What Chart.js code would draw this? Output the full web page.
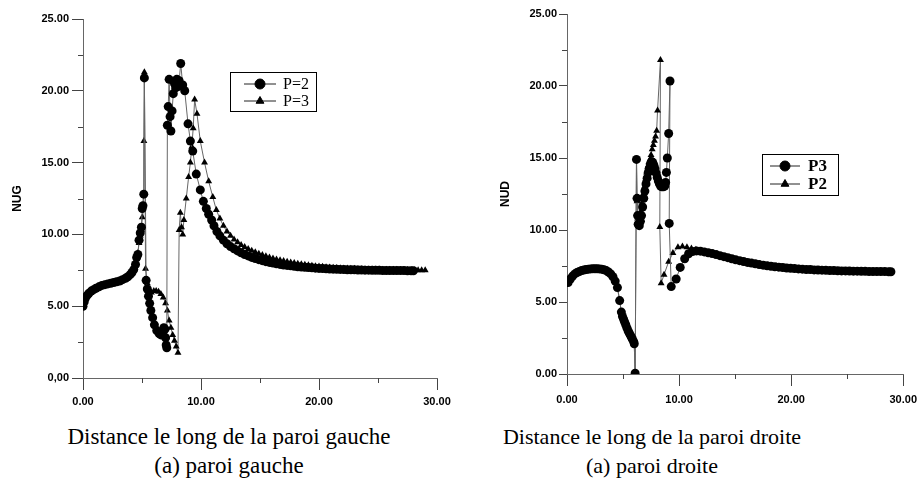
<!DOCTYPE html>
<html>
<head>
<meta charset="utf-8">
<script src="https://cdn.jsdelivr.net/npm/chart.js@4.4.1/dist/chart.umd.min.js"></script>
<style>
  body { margin: 0; background: #fff; width: 924px; height: 490px; position: relative; overflow: hidden; }
  canvas { position: absolute; top: 0; }
  #graphGauche { left: 0; }
  #graphDroite { left: 460px; }
  .legende { position: absolute; width: 420px; text-align: center; font-family: "Liberation Serif", serif;
             font-size: 23px; line-height: 29px; color: #000; white-space: nowrap; }
</style>
</head>
<body>
<canvas id="graphGauche" width="460" height="420"></canvas>
<canvas id="graphDroite" width="464" height="420"></canvas>
<div class="legende" style="left:19px; top:422px;">Distance le long de la paroi gauche<br>(a) paroi gauche</div>
<div class="legende" style="left:442px; top:422px; font-size:22px;">Distance le long de la paroi droite<br>(a) paroi droite</div>

<script>
// ---- paroi gauche, P=2 (cercles)
const gaucheX2 = [0.0,0.1,0.2,0.35,0.5,0.7,0.9,1.1,1.35,1.6,1.85,2.1,2.35,2.6,2.85,3.1,3.35,3.6,3.8,4.0,4.15,4.3,4.45,4.55,4.65,4.75,4.85,4.95,5.02,5.08,5.15,5.2,
  5.35,5.45,5.55,5.65,5.75,5.9,6.05,6.25,6.45,6.6,6.75,6.85,6.95,7.0,7.05,7.1,
  7.15,7.22,7.3,7.38,7.45,7.55,7.65,7.75,7.85,7.95,8.05,8.15,8.28,8.45,8.62,8.9,9.1,9.3,9.6,9.94,10.2,10.45,10.65,10.9,11.1,11.35,11.6,11.9,
  12.2,12.5,12.8,13.1,13.4,13.7,14.0,14.3,14.6,14.9,15.2,15.5,15.8,16.1,16.4,16.7,17.0,17.3,17.6,17.9,18.2,18.5,18.8,19.1,19.4,19.7,20.0,
  20.3,20.6,20.9,21.2,21.5,21.8,22.1,22.4,22.7,23.0,23.3,23.6,23.9,24.2,24.5,24.8,25.1,25.4,25.7,26.0,26.3,26.6,26.9,27.2,27.5,27.8,28.0];
const gaucheY2 = [5.0,5.3,5.55,5.75,5.9,6.05,6.15,6.25,6.35,6.45,6.5,6.55,6.6,6.65,6.7,6.75,6.85,6.95,7.05,7.2,7.35,7.55,7.9,8.4,8.6,9.6,10.1,10.5,11.8,12.0,12.8,20.9,
  6.8,6.2,5.7,5.2,4.7,4.2,3.7,3.3,3.1,3.0,3.2,3.5,3.4,2.8,2.3,2.1,
  17.6,18.9,20.8,18.2,17.2,18.6,19.8,20.5,20.2,20.8,20.3,20.7,21.9,20.4,20.0,17.7,16.5,15.8,14.2,13.1,12.3,11.8,11.4,11.0,10.6,10.2,9.9,9.6,
  9.35,9.15,9.0,8.85,8.72,8.6,8.5,8.4,8.32,8.24,8.17,8.1,8.05,8.0,7.95,7.91,7.87,7.84,7.81,7.78,7.75,7.73,7.71,7.69,7.67,7.65,7.63,
  7.62,7.6,7.59,7.58,7.57,7.56,7.55,7.54,7.53,7.53,7.52,7.52,7.51,7.51,7.5,7.5,7.5,7.49,7.49,7.49,7.48,7.48,7.48,7.48,7.47,7.47,7.47];

// ---- paroi gauche, P=3 (triangles)
const gaucheX3 = [0.0,0.1,0.2,0.35,0.5,0.7,0.9,1.1,1.35,1.6,1.85,2.1,2.35,2.6,2.85,3.1,3.35,3.6,3.8,4.0,4.15,4.3,4.45,4.55,4.65,4.75,4.85,4.95,5.02,5.08,5.12,5.16,5.2,
  5.3,5.45,5.6,5.8,6.0,6.2,6.4,6.6,6.8,7.0,7.15,7.3,7.45,7.6,7.75,7.9,8.05,
  8.15,8.25,8.35,8.45,8.55,8.75,8.95,9.1,9.22,9.34,9.46,9.66,9.94,10.3,10.65,11.0,11.3,11.6,11.9,12.2,12.5,12.8,13.1,13.4,13.7,14.0,
  14.3,14.6,14.9,15.2,15.5,15.8,16.1,16.4,16.7,17.0,17.3,17.6,17.9,18.2,18.5,18.8,19.1,19.4,19.7,20.0,20.3,20.6,20.9,21.2,21.5,21.8,
  22.1,22.4,22.7,23.0,23.3,23.6,23.9,24.2,24.5,24.8,25.1,25.4,25.7,26.0,26.3,26.6,26.9,27.2,27.5,27.8,28.1,28.4,28.7,29.0];
const gaucheY3 = [5.0,5.3,5.55,5.75,5.9,6.05,6.15,6.25,6.35,6.45,6.5,6.55,6.6,6.65,6.7,6.75,6.85,6.95,7.05,7.2,7.35,7.55,7.9,8.3,8.7,9.4,9.9,10.3,11.2,12.0,12.8,16.5,21.3,
  7.6,6.6,6.1,5.95,6.05,6.05,6.0,5.85,5.6,5.2,4.7,4.0,3.5,3.0,2.6,2.2,1.75,
  10.3,11.5,10.5,10.0,11.0,12.5,14.0,15.0,16.1,17.4,19.4,18.4,16.5,15.0,13.7,12.6,11.7,11.1,10.6,10.2,9.9,9.65,9.45,9.27,9.12,8.98,
  8.86,8.75,8.65,8.56,8.48,8.4,8.33,8.26,8.2,8.14,8.09,8.04,8.0,7.96,7.92,7.88,7.85,7.82,7.79,7.76,7.74,7.72,7.7,7.68,7.66,7.65,
  7.63,7.62,7.61,7.6,7.59,7.58,7.57,7.56,7.56,7.55,7.55,7.54,7.54,7.53,7.53,7.53,7.52,7.52,7.52,7.51,7.51,7.51,7.5,7.5];

// ---- paroi droite, P3 (cercles)
const droiteX3 = [0.1,0.3,0.5,0.7,0.9,1.1,1.3,1.5,1.7,1.9,2.1,2.3,2.5,2.7,2.9,3.1,3.3,3.5,3.7,3.9,4.1,4.3,4.5,4.7,4.85,4.95,5.05,5.15,5.25,5.35,5.45,5.55,5.65,5.75,5.85,5.95,6.0,6.08,
  6.2,6.25,6.3,6.35,6.45,6.55,6.65,6.75,6.85,6.95,7.05,7.15,7.25,7.35,7.45,7.55,7.65,7.75,7.85,7.95,8.05,8.15,8.25,8.35,8.45,8.6,8.72,8.8,8.87,8.95,9.07,9.19,9.12,9.3,
  9.74,10.1,10.5,10.85,11.2,11.55,11.9,12.25,12.6,12.95,13.3,13.65,14.0,14.35,14.7,15.05,15.4,15.75,16.1,16.45,16.8,17.15,17.5,17.85,18.2,18.55,18.9,
  19.25,19.6,19.95,20.3,20.65,21.0,21.35,21.7,22.05,22.4,22.75,23.1,23.45,23.8,24.15,24.5,24.85,25.2,25.55,25.9,26.25,26.6,26.95,27.3,27.65,28.0,28.35,28.7,28.9];
const droiteY3 = [6.35,6.6,6.8,6.95,7.05,7.12,7.18,7.22,7.26,7.28,7.3,7.31,7.31,7.31,7.3,7.28,7.24,7.18,7.08,6.95,6.75,6.45,6.0,5.1,4.3,4.0,3.8,3.6,3.4,3.2,3.0,2.85,2.7,2.55,2.4,2.25,2.1,0.05,
  14.9,12.2,11.0,10.4,10.3,10.6,11.0,11.6,12.2,12.7,13.2,13.6,14.0,14.3,14.55,14.75,14.7,14.5,14.25,13.95,13.65,13.4,13.2,13.05,13.0,13.0,13.05,13.3,14.0,15.0,16.7,20.35,10.46,6.07,
  6.6,7.4,8.0,8.35,8.5,8.55,8.53,8.48,8.42,8.36,8.29,8.22,8.15,8.08,8.0,7.93,7.87,7.81,7.75,7.7,7.65,7.6,7.56,7.52,7.48,7.45,7.42,
  7.39,7.36,7.34,7.32,7.3,7.28,7.26,7.25,7.23,7.22,7.21,7.2,7.19,7.18,7.17,7.16,7.16,7.15,7.14,7.14,7.13,7.13,7.12,7.12,7.12,7.11,7.11,7.1,7.1];

// ---- paroi droite, P2 (triangles)
const droiteX2 = [0.1,0.3,0.5,0.7,0.9,1.1,1.3,1.5,1.7,1.9,2.1,2.3,2.5,2.7,2.9,3.1,3.3,3.5,3.7,3.9,4.1,4.3,4.5,4.7,4.85,4.95,5.05,5.15,5.25,5.35,5.45,5.55,5.65,5.75,5.85,5.95,6.0,6.08,
  6.2,6.25,6.3,6.4,6.5,6.6,6.7,6.8,6.9,7.0,7.1,7.2,7.3,7.4,7.5,7.6,7.7,7.8,7.9,8.0,8.08,8.34,8.28,8.4,8.66,9.07,9.45,9.9,
  10.3,10.7,11.1,11.5,11.9,12.3,12.7,13.1,13.5,13.9,14.3,14.7,15.1,15.5,15.9,16.3,16.7,17.1,17.5,17.9,18.3,18.7,19.1,19.5,19.9,
  20.3,20.7,21.1,21.5,21.9,22.3,22.7,23.1,23.5,23.9,24.3,24.7,25.1,25.5,25.9,26.3,26.7,27.1,27.5,27.9,28.3,28.7];
const droiteY2 = [6.35,6.6,6.8,6.95,7.05,7.12,7.18,7.22,7.26,7.28,7.3,7.31,7.31,7.31,7.3,7.28,7.24,7.18,7.08,6.95,6.75,6.45,6.0,5.1,4.3,4.0,3.8,3.6,3.4,3.2,3.0,2.85,2.7,2.55,2.4,2.25,2.1,0.05,
  14.9,12.0,10.8,10.4,10.8,11.3,11.9,12.5,13.0,13.5,14.0,14.4,14.7,14.9,15.2,15.6,15.9,16.2,16.5,16.9,18.3,21.8,10.2,6.3,6.9,7.8,8.4,8.8,
  8.85,8.8,8.72,8.63,8.55,8.47,8.39,8.31,8.23,8.15,8.07,8.0,7.93,7.86,7.8,7.74,7.68,7.63,7.58,7.54,7.5,7.46,7.43,7.4,7.37,
  7.35,7.33,7.31,7.29,7.27,7.25,7.24,7.22,7.21,7.2,7.19,7.18,7.17,7.16,7.15,7.14,7.13,7.13,7.12,7.12,7.11,7.11];

const graduationsY = [0, 5, 10, 15, 20, 25];
const graduationsX = [0, 10, 20, 30];

function points(xs, ys) {
  return xs.map((x, i) => ({ x: x, y: ys[i] }));
}

// petites graduations + cadre de légende
const decor = {
  id: 'decor',
  afterDraw(chart, args, opts) {
    const ctx = chart.ctx;
    const sx = chart.scales.x, sy = chart.scales.y;
    ctx.save();
    ctx.strokeStyle = '#444';
    ctx.lineWidth = 1;
    ctx.beginPath();
    sx.ticks.forEach(t => {
      if (graduationsX.includes(t.value)) return;
      const px = Math.round(sx.getPixelForValue(t.value)) + 0.5;
      ctx.moveTo(px, sx.top); ctx.lineTo(px, sx.top + 5);
    });
    sy.ticks.forEach(t => {
      if (graduationsY.includes(t.value)) return;
      const py = Math.round(sy.getPixelForValue(t.value)) + 0.5;
      ctx.moveTo(sy.right, py); ctx.lineTo(sy.right - 5, py);
    });
    ctx.stroke();

    // légende
    const b = opts.boite;
    ctx.strokeStyle = '#000';
    ctx.strokeRect(b.x + 0.5, b.y + 0.5, b.w, b.h);
    ctx.font = (b.gras ? 'bold ' : '') + b.taille + 'px "Liberation Serif"';
    ctx.textBaseline = 'middle';
    ctx.fillStyle = '#000';
    chart.data.datasets.forEach((ds, i) => {
      const cy = b.y + b.premier + i * b.ecart;
      ctx.strokeStyle = '#222';
      ctx.beginPath();
      ctx.moveTo(b.x + b.l0, cy); ctx.lineTo(b.x + b.l1, cy);
      ctx.stroke();
      ctx.fillStyle = '#000';
      ctx.strokeStyle = '#000';
      Chart.helpers.drawPoint(ctx, { pointStyle: ds.pointStyle, radius: ds.pointRadius + 0.5, rotation: 0, borderWidth: 1 },
        b.x + (b.l0 + b.l1) / 2, cy);
      ctx.fillText(ds.label, b.x + b.tx, cy + 1);
    });
    ctx.restore();
  }
};

function serie(label, data, style, rayon) {
  return {
    label: label,
    data: data,
    showLine: true,
    borderColor: '#666',
    borderWidth: 1,
    pointStyle: style,
    pointRadius: rayon,
    pointBackgroundColor: '#000',
    pointBorderColor: '#000',
    pointBorderWidth: 0,
    tension: 0
  };
}

function creer(id, series, reglages) {
  const format = reglages.zeroVirgule;
  new Chart(document.getElementById(id), {
    type: 'scatter',
    data: { datasets: series },
    options: {
      responsive: false,
      animation: false,
      events: [],
      layout: { padding: reglages.padding },
      plugins: { legend: { display: false }, tooltip: { enabled: false }, decor: { boite: reglages.boite } },
      scales: {
        x: {
          type: 'linear', min: 0, max: 30,
          border: { color: '#666', width: 1 },
          grid: { drawOnChartArea: false, tickLength: 12,
                  tickColor: c => (c.tick && graduationsX.includes(c.tick.value)) ? '#444' : 'rgba(0,0,0,0)' },
          ticks: { stepSize: 5, autoSkip: false, maxRotation: 0, padding: reglages.xPad, color: '#000',
                   font: { family: 'Liberation Sans', weight: 'bold', size: 11 },
                   callback: v => graduationsX.includes(v) ? v.toFixed(2) : '' },
          afterFit: s => { s.height = reglages.hauteurX; }
        },
        y: {
          type: 'linear', min: 0, max: 25,
          border: { color: '#666', width: 1 },
          grid: { drawOnChartArea: false, tickLength: reglages.yTick,
                  tickColor: c => (c.tick && graduationsY.includes(c.tick.value)) ? '#444' : 'rgba(0,0,0,0)' },
          ticks: { stepSize: 2.5, autoSkip: false, padding: reglages.yPad, color: '#000',
                   font: { family: 'Liberation Sans', weight: 'bold', size: 11 },
                   callback: v => graduationsY.includes(v) ? (v === 0 && format ? '0,00' : v.toFixed(2)) : '' },
          title: { display: true, text: reglages.titreY, color: '#000',
                   font: { family: 'Liberation Sans', weight: 'bold', size: 12 },
                   padding: { top: reglages.titrePad, bottom: 0 } },
          afterFit: s => { s.width = reglages.largeurY; }
        }
      }
    },
    plugins: [decor]
  });
}

creer('graphGauche', [
  serie('P=2', points(gaucheX2, gaucheY2), 'circle', 4.5),
  serie('P=3', points(gaucheX3, gaucheY3), 'triangle', 4)
], {
  padding: { top: 19, right: 23, left: 0, bottom: 0 },
  largeurY: 83, hauteurX: 42, yTick: 11, yPad: 3, xPad: 5, titrePad: 10,
  titreY: 'NUG', zeroVirgule: true,
  boite: { x: 230, y: 72, w: 86, h: 39, premier: 12, ecart: 17, l0: 14, l1: 46, tx: 53, taille: 16, gras: false }
});

creer('graphDroite', [
  serie('P3', points(droiteX3, droiteY3), 'circle', 4.5),
  serie('P2', points(droiteX2, droiteY2), 'triangle', 4)
], {
  padding: { top: 14, right: 13, left: 0, bottom: 0 },
  largeurY: 107, hauteurX: 46, yTick: 8, yPad: 2, xPad: 7, titrePad: 38,
  titreY: 'NUD', zeroVirgule: false,
  boite: { x: 302, y: 154, w: 76, h: 41, premier: 12, ecart: 18, l0: 8, l1: 38, tx: 46, taille: 17, gras: true }
});
</script>
</body>
</html>
